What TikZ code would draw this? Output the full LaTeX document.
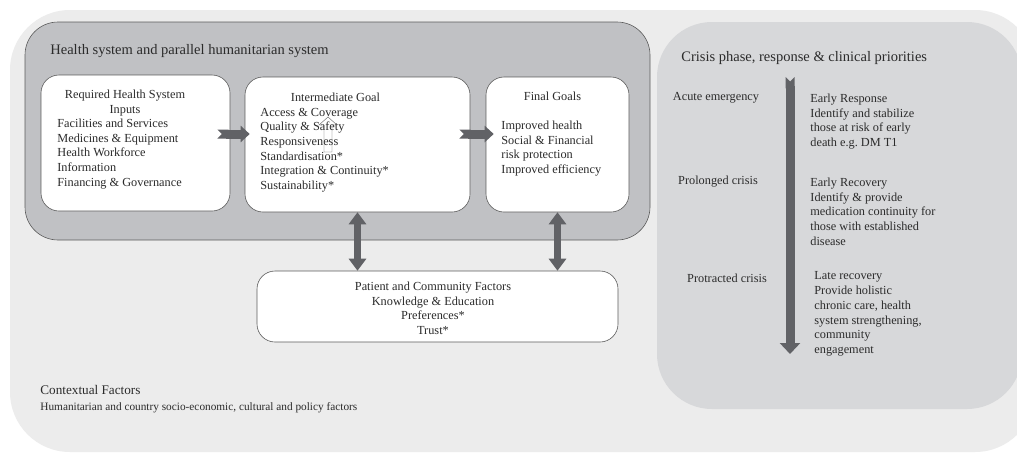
\documentclass[tikz,border=0pt]{standalone}
\usepackage{fontspec}
\setmainfont{Liberation Serif}
\usetikzlibrary{positioning,arrows.meta}
\definecolor{outergrey}{HTML}{ECECEC}
\definecolor{systemgrey}{HTML}{C0C1C4}
\definecolor{crisisgrey}{HTML}{D7D8DA}
\definecolor{arrowgrey}{HTML}{616266}
\definecolor{edgegrey}{HTML}{5C5C5C}
\definecolor{textgrey}{HTML}{2B2B2B}

\begin{document}
\begin{tikzpicture}[x=1pt, y=-1pt, thick,
  every node/.style={inner sep=0pt, text=textgrey, font=\fontsize{12.3}{14.7}\selectfont},
  main node/.style={draw=edgegrey, fill=white, line width=0.6pt, rounded corners=18pt},
  big text/.style={font=\fontsize{14.5}{17}\selectfont},
  list/.style={anchor=north west, align=left},
  block/.style={arrowgrey, line width=9pt, {Triangle Cap[reversed]}-{Triangle[width=16pt,length=9pt]}},
  both ways/.style={arrowgrey, line width=7pt, {Triangle[width=17pt,length=12pt]}-{Triangle[width=17pt,length=12pt]}}]
  \clip (0,0) rectangle (1017,453);
  \fill[white] (0,0) rectangle (1017,453);
  % panels
  \fill[outergrey, rounded corners=60pt] (10,10) rectangle (1035,452);
  \filldraw[fill=systemgrey, draw=edgegrey, line width=0.6pt, rounded corners=33pt] (25,22) rectangle (650,240);
  \fill[crisisgrey, rounded corners=55pt] (657,22) rectangle (1022,409);

  % health system boxes
  \node[main node, minimum width=189pt, minimum height=136pt] (1) at (135.5,143) {};
  \node[main node, minimum width=225pt, minimum height=135pt] (2) at (357.5,144.5) {};
  \node[main node, minimum width=143pt, minimum height=135pt] (3) at (557.5,144.5) {};
  \node[main node, minimum width=361pt, minimum height=71pt] (4) at (437.5,306.5) {};

  \node[big text, anchor=west] (system title) at (50,51) {Health system and parallel humanitarian system};
  \node[align=center, anchor=north] (1 head) at (125,89.5) {Required Health System\\Inputs};
  \node[list] (1 list) at (57,118.5) {Facilities and Services\\Medicines \& Equipment\\Health Workforce\\Information\\Financing \& Governance};
  \node[anchor=north] (2 head) at (335.5,92.5) {Intermediate Goal};
  \node[list] (2 list) at (260,107.5) {Access \& Coverage\\Quality \& Safety\\Responsiveness\\Standardisation*\\Integration \& Continuity*\\Sustainability*};
  \node[anchor=north] (3 head) at (552.5,91.5) {Final Goals};
  \node[list] (3 list) at (501,120.5) {Improved health\\Social \& Financial\\risk protection\\Improved efficiency};
  \node[align=center, anchor=north] (4 text) at (433,281.5) {Patient and Community Factors\\Knowledge \& Education\\Preferences*\\Trust*};
  \draw[edgegrey, line width=0.4pt] (324,152) -- (324,125) -- (319,125) -- (328,117) -- (337,125) -- (332,125) -- (332,152) -- cycle;

  \draw[block] ([xshift=-13pt, yshift=9pt]1.east) -- ([xshift=5pt, yshift=10.5pt]2.west);
  \draw[block] ([xshift=-11pt, yshift=10.5pt]2.east) -- ([xshift=8pt, yshift=10.5pt]3.west);
  \draw[both ways] (2.south) -- (2.south |- 4.north);
  \draw[both ways] (3.south) -- (3.south |- 4.north);

  % crisis phases
  \node[big text, anchor=west] (crisis title) at (681,58) {Crisis phase, response \& clinical priorities};
  \coordinate (phase top) at (790,77);
  \coordinate (phase end) at (790,354);
  \draw[arrowgrey, line width=9pt, {Triangle Cap[reversed]}-{Triangle[width=20pt,length=11pt]}] (phase top) -- (phase end);
  \node (acute) at (716,98) {Acute emergency};
  \node (prolonged) at (718,182) {Prolonged crisis};
  \node (protracted) at (727,278) {Protracted crisis};
  \node[list] (early response) at (810,93.5) {Early Response\\Identify and stabilize\\those at risk of early\\death e.g.\ DM T1};
  \node[list] (early recovery) at (810,177.5) {Early Recovery\\Identify \& provide\\medication continuity for\\those with established\\disease};
  \node[list] (late recovery) at (814,271.5) {Late recovery\\Provide holistic\\chronic care, health\\system strengthening,\\community\\engagement};

  % context
  \node[anchor=west, font=\fontsize{13.2}{15}\selectfont] (context title) at (40,390) {Contextual Factors};
  \node[anchor=west, font=\fontsize{11.3}{14}\selectfont] (context text) at (40,408) {Humanitarian and country socio-economic, cultural and policy factors};
\end{tikzpicture}
\end{document}
